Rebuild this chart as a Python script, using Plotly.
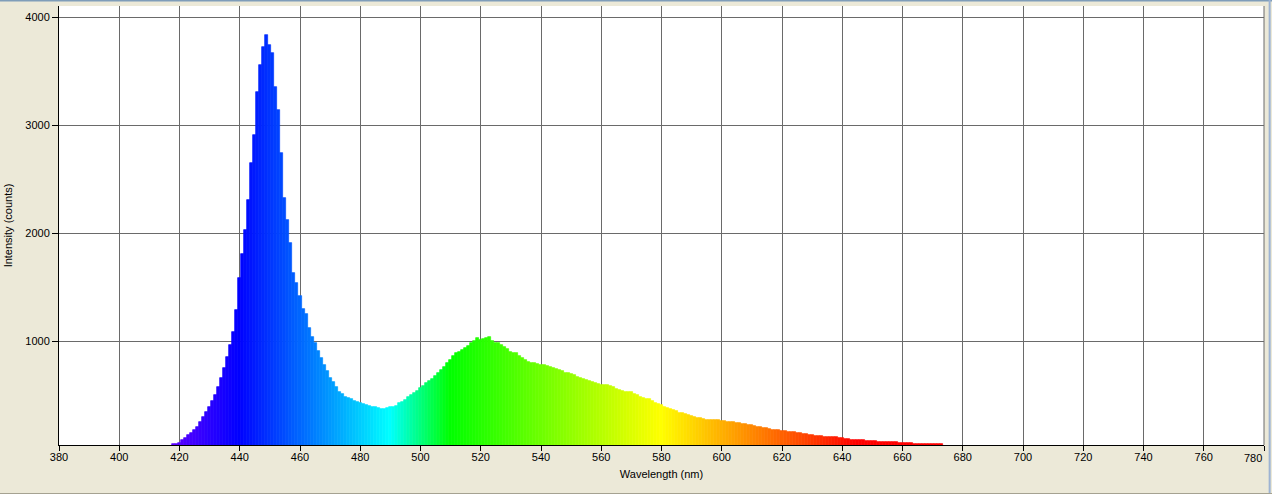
import plotly.graph_objects as go

# ---- data ----
wl_start = 418
intensity = [
    45, 50, 58, 80, 105, 128, 150, 178, 207, 250,            # 418-427
    300, 345, 392, 440, 500, 570, 655, 750, 855, 960,        # 428-437
    1086, 1290, 1580, 1810, 2030, 2306, 2646, 2908, 3309, 3556,  # 438-447
    3720, 3830, 3740, 3670, 3355, 3139, 2740, 2324, 2120, 1907,  # 448-457
    1630, 1537, 1415, 1300, 1250, 1120, 1040, 981, 910, 845,     # 458-467
    775, 720, 660, 623, 571, 531, 509, 484, 469, 460,        # 468-477
    447, 435, 423, 417, 404, 401, 392, 386, 380, 373,        # 478-487
    373, 376, 386, 392, 398, 423, 438, 454, 478, 500,        # 488-497
    515, 535, 562, 585, 608, 628, 645, 672, 700, 730,        # 498-507
    762, 795, 824, 858, 886, 902, 917, 935, 954, 980,        # 508-517
    1003, 1025, 1009, 1018, 1025, 1040, 1003, 979, 985, 963, # 518-527
    947, 923, 901, 892, 886, 861, 840, 824, 809, 793,        # 528-537
    799, 787, 778, 778, 769, 762, 747, 738, 728, 718,        # 538-547
    707, 700, 694, 682, 670, 658, 645, 638, 630, 618,        # 548-557
    608, 600, 593, 592, 590, 580, 571, 558, 546, 537,        # 558-567
    528, 527, 525, 512, 500, 484, 469, 466, 463, 446,        # 568-577
    429, 416, 404, 390, 377, 369, 361, 348, 336, 330,        # 578-587
    324, 315, 306, 298, 290, 284, 278, 273, 269, 269,        # 588-597
    269, 265, 262, 257, 253, 250, 247, 242, 238, 234,        # 598-607
    231, 226, 222, 214, 207, 202, 197, 191, 185, 180,        # 608-617
    176, 173, 170, 165, 160, 157, 154, 149, 145, 140,        # 618-627
    136, 133, 130, 125, 120, 117, 114, 112, 111, 111,        # 628-637
    111, 105, 99, 94, 90, 86, 83, 83, 83, 80,                # 638-647
    77, 74, 71, 70, 68, 68, 68, 66, 65, 63,                  # 648-657
    62, 60, 58, 57, 56, 52, 49, 47, 46, 46,                  # 658-667
    46, 46, 46, 46, 46, 46,                                  # 668-673
]
wavelengths = [wl_start + i for i in range(len(intensity))]
x_ticks = list(range(380, 781, 20))
x_tick_text = [str(v) for v in x_ticks[:-1]] + [""]  # last label drawn right-aligned below
last_x_label = str(x_ticks[-1])
y_ticks = [1000, 2000, 3000, 4000]


def wl_color(w):
    if w < 440:
        r, g, b = (440 - w) / 60, 0.0, 1.0
    elif w < 490:
        r, g, b = 0.0, (w - 440) / 50, 1.0
    elif w < 510:
        r, g, b = 0.0, 1.0, (510 - w) / 20
    elif w < 580:
        r, g, b = (w - 510) / 70, 1.0, 0.0
    elif w < 645:
        r, g, b = 1.0, (645 - w) / 65, 0.0
    else:
        r, g, b = 1.0, 0.0, 0.0
    return "rgb(%d,%d,%d)" % (round(r * 255), round(g * 255), round(b * 255))


colors = [wl_color(w) for w in wavelengths]

fig = go.Figure(
    go.Bar(
        x=wavelengths,
        y=intensity,
        marker=dict(color=colors, line=dict(width=0.7, color=colors)),
        hoverinfo="x+y",
    )
)

font = dict(family="Liberation Sans, Arial, sans-serif", size=11, color="black")
grid = "#6a6a6a"

fig.update_layout(
    width=1272,
    height=494,
    margin=dict(l=59, r=8, t=6, b=49),
    paper_bgcolor="#ECE9D8",
    plot_bgcolor="white",
    bargap=0,
    showlegend=False,
    font=font,
    xaxis=dict(
        range=[380, 780],
        tickvals=x_ticks,
        ticktext=x_tick_text,
        ticks="outside",
        ticklen=5,
        tickcolor="black",
        ticklabelstandoff=-3,
        showline=True,
        linecolor="black",
        linewidth=1,
        showgrid=True,
        gridcolor=grid,
        gridwidth=1,
        zeroline=False,
        automargin=False,
        ticklabeloverflow="allow",
        title=dict(text="Wavelength (nm)", font=font, standoff=8),
        tickfont=font,
    ),
    yaxis=dict(
        range=[37, 4102],
        tickvals=y_ticks,
        ticks="outside",
        ticklen=6,
        tickcolor="black",
        showline=True,
        linecolor="black",
        linewidth=1,
        showgrid=True,
        gridcolor=grid,
        gridwidth=1,
        zeroline=False,
        automargin=False,
        title=dict(text="Intensity (counts)", font=font, standoff=10),
        tickfont=font,
    ),
    annotations=[
        dict(text=last_x_label, x=x_ticks[-1], xref="x", y=0, yref="paper",
             xanchor="right", yanchor="top", yshift=-5, xshift=0,
             showarrow=False, font=font),
    ],
    shapes=[
        # window frame lines
        dict(type="line", xref="paper", yref="paper", x0=-0.05, x1=1.01,
             y0=1.0125, y1=1.0125, line=dict(color="#7F9DB9", width=2)),
        dict(type="line", xref="paper", yref="paper", x0=1.0047, x1=1.0047,
             y0=-0.12, y1=1.02, line=dict(color="#9DB3D3", width=2)),
        dict(type="line", xref="paper", yref="paper", x0=-0.05, x1=1.01,
             y0=-0.1105, y1=-0.1105, line=dict(color="#A5A291", width=1)),
        # right-hand plot border at 780 nm
        dict(type="line", xref="paper", yref="paper", x0=1, x1=1,
             y0=0, y1=1, line=dict(color=grid, width=1)),
    ],
)

fig.write_html(
    "out.html",
    config={"displayModeBar": False},
    post_script="document.body.style.margin='0';document.body.style.overflow='hidden';",
)
